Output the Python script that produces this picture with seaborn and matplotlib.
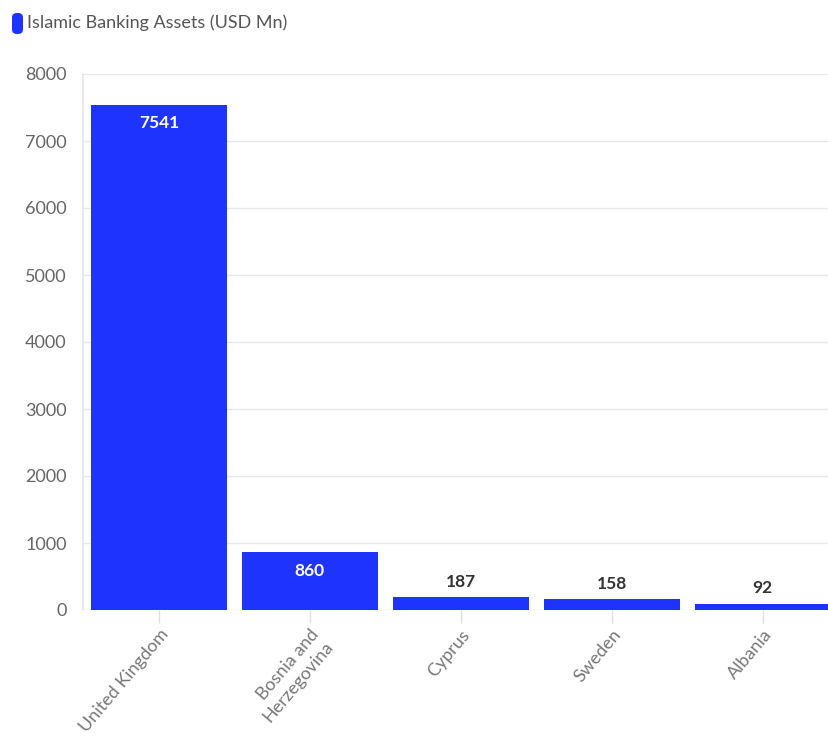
import matplotlib
matplotlib.use("Agg")
import matplotlib.pyplot as plt
import seaborn as sns
import pandas as pd
from matplotlib.patches import FancyBboxPatch

countries = ["United Kingdom", "Bosnia and\nHerzegovina", "Cyprus", "Sweden", "Albania"]
assets = [7541, 860, 187, 158, 92]
yticks = [0, 1000, 2000, 3000, 4000, 5000, 6000, 7000, 8000]
series_name = "Islamic Banking Assets (USD Mn)"

BLUE = "#1f33ff"
sns.set_theme(style="white")
plt.rcParams["font.family"] = ["Lato", "DejaVu Sans"]

df = pd.DataFrame({"country": countries, "assets": assets})

fig = plt.figure(figsize=(8.29, 7.38), dpi=100)
ax = fig.add_axes([83.5 / 829, 128 / 738, (829 - 83.5) / 829, (610 - 74) / 738])

sns.barplot(data=df, x="country", y="assets", color=BLUE, saturation=1,
            width=0.9, ax=ax, edgecolor="none")

ax.set_xlim(-0.5, 4.44)
ax.set_ylim(0, 8000)
ax.set_yticks(yticks)
ax.set_yticklabels([str(v) for v in yticks], color="#666666", fontsize=13)
ax.yaxis.grid(True, color="#e8e8e8", linewidth=1)
ax.set_axisbelow(True)
ax.set_xlabel("")
ax.set_ylabel("")
for s in ["top", "right", "bottom"]:
    ax.spines[s].set_visible(False)
ax.spines["left"].set_color("#e6e6e6")
ax.tick_params(axis="y", length=0, pad=12)
ax.tick_params(axis="x", length=9, color="#e0e0e0", width=1, pad=3, bottom=True)
plt.setp(ax.get_xticklabels(), rotation=50, ha="right", rotation_mode="anchor",
         color="#777777", fontsize=13)

for i, v in enumerate(assets):
    if v > 500:
        ax.text(i, v - 160, str(v), ha="center", va="top", color="white",
                fontsize=12.5, fontweight="bold")
    else:
        ax.text(i, v + 110, str(v), ha="center", va="bottom", color="#333333",
                fontsize=12.5, fontweight="bold")

# legend
fig.patches.append(FancyBboxPatch((12 / 829, 1 - 34 / 738), 11 / 829, 21 / 738,
                                  boxstyle="round,pad=0,rounding_size=0.006",
                                  transform=fig.transFigure, facecolor=BLUE,
                                  edgecolor="none"))
fig.text(27 / 829, 1 - 23 / 738, series_name, ha="left", va="center",
         color="#555555", fontsize=13)

fig.savefig("out.png", dpi=100)
